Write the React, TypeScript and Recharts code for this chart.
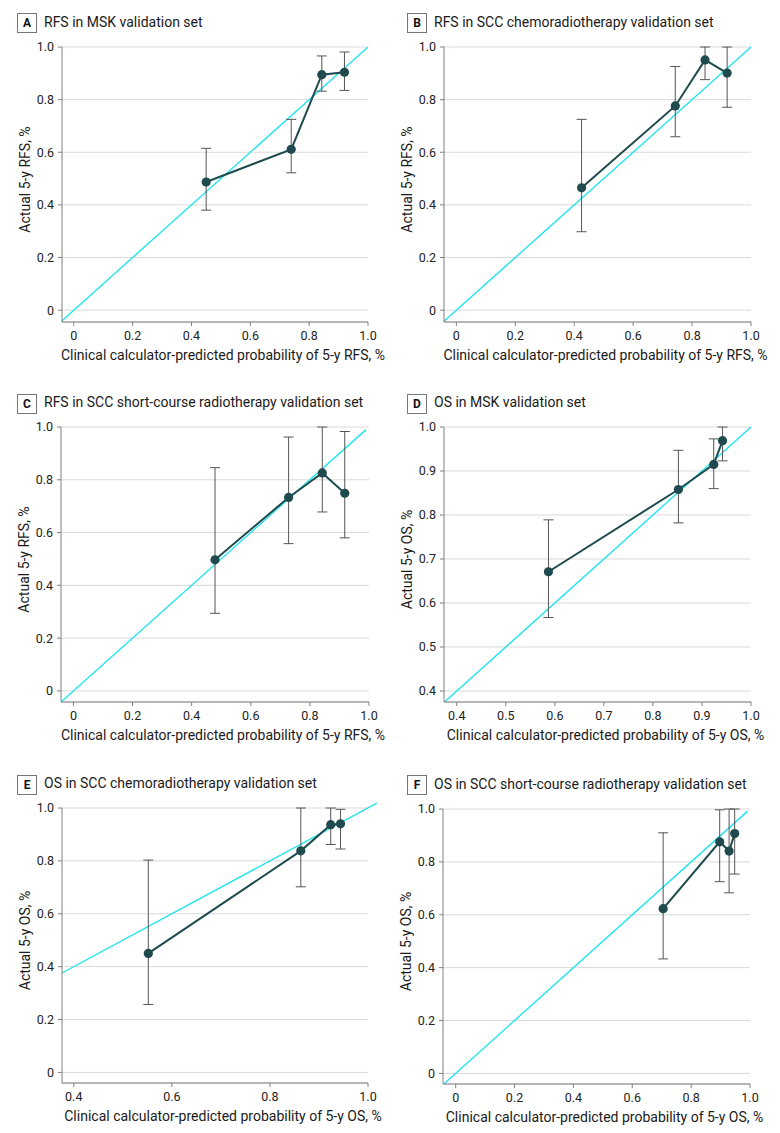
import React from 'react';
import { LineChart, Line, XAxis, YAxis, CartesianGrid, ReferenceLine, ErrorBar, Label } from 'recharts';

// panel A: RFS in MSK validation set
const aPred = [0.45, 0.739, 0.843, 0.92];
const aObs = [0.487, 0.611, 0.895, 0.904];
const aLow = [0.38, 0.522, 0.832, 0.835];
const aHigh = [0.615, 0.725, 0.966, 0.981];

// panel B: RFS in SCC chemoradiotherapy validation set
const bPred = [0.425, 0.743, 0.844, 0.919];
const bObs = [0.465, 0.776, 0.951, 0.901];
const bLow = [0.298, 0.659, 0.876, 0.771];
const bHigh = [0.725, 0.926, 1.0, 1.0];

// panel C: RFS in SCC short-course radiotherapy validation set
const cPred = [0.479, 0.728, 0.842, 0.918];
const cObs = [0.497, 0.733, 0.826, 0.749];
const cLow = [0.294, 0.558, 0.678, 0.58];
const cHigh = [0.846, 0.962, 1.0, 0.983];

// panel D: OS in MSK validation set
const dPred = [0.587, 0.852, 0.924, 0.942];
const dObs = [0.671, 0.858, 0.915, 0.969];
const dLow = [0.567, 0.782, 0.86, 0.923];
const dHigh = [0.789, 0.947, 0.973, 1.0];

// panel E: OS in SCC chemoradiotherapy validation set
const ePred = [0.552, 0.863, 0.924, 0.944];
const eObs = [0.45, 0.838, 0.937, 0.94];
const eLow = [0.257, 0.702, 0.862, 0.845];
const eHigh = [0.803, 1.0, 1.0, 0.995];

// panel F: OS in SCC short-course radiotherapy validation set
const fPred = [0.705, 0.897, 0.929, 0.948];
const fObs = [0.623, 0.876, 0.841, 0.907];
const fLow = [0.433, 0.725, 0.683, 0.754];
const fHigh = [0.91, 0.997, 1.0, 1.0];

const fullTicks = [0, 0.2, 0.4, 0.6, 0.8, 1.0];
const osTicks = [0.4, 0.5, 0.6, 0.7, 0.8, 0.9, 1.0];
const osWideTicks = [0.4, 0.6, 0.8, 1.0];

const FONT = 'Roboto, "Liberation Sans", Arial, sans-serif';
const LINE = '#1f4a4e';
const CYAN = '#22e5ee';

const rows = (pred: number[], obs: number[], low: number[], high: number[]) =>
  pred.map((x, i) => ({ x, obs: obs[i], err: [obs[i] - low[i], high[i] - obs[i]] }));

const fmt = (v: number) => (v === 0 ? '0' : v.toFixed(1));

interface PanelProps {
  letter: string;
  title: string;
  left: number;
  plotTop: number;
  axisW: number;
  plotW: number;
  data: { x: number; obs: number; err: number[] }[];
  xDomain: [number, number];
  yDomain: [number, number];
  xTicks: number[];
  yTicks: number[];
  diagEnd: number;
  xLabel: string;
  yLabel: string;
}

const Panel: React.FC<PanelProps> = (p) => {
  const top = 15;
  const plotH = 275;
  const xh = 45;
  const diagStart = Math.max(p.xDomain[0], p.yDomain[0]);
  return (
    <>
      <div
        style={{
          position: 'absolute', left: p.left + 17, top: p.plotTop - 33.5, width: 18, height: 18,
          border: '1px solid #777', fontFamily: FONT, fontWeight: 700, fontSize: 12, color: '#111',
          display: 'flex', alignItems: 'center', justifyContent: 'center', boxSizing: 'content-box',
        }}
      >
        {p.letter}
      </div>
      <div
        style={{
          position: 'absolute', left: p.left + 44, top: p.plotTop - 35, fontFamily: FONT, fontSize: 14,
          color: '#1a1a1a', whiteSpace: 'nowrap', lineHeight: '20px',
        }}
      >
        {p.title}
      </div>
      <div style={{ position: 'absolute', left: p.left, top: p.plotTop - top }}>
        <LineChart
          width={390}
          height={top + plotH + xh}
          data={p.data}
          margin={{ top, right: 390 - p.axisW - p.plotW, bottom: 0, left: 0 }}
        >
          <CartesianGrid vertical={false} stroke="#d9d9d9" />
          <XAxis
            type="number"
            dataKey="x"
            domain={p.xDomain}
            ticks={p.xTicks}
            allowDataOverflow
            height={xh}
            tickFormatter={fmt}
            tickSize={4}
            tickMargin={5}
            stroke="#808080"
            tick={{ fill: '#222', fontSize: 12.5, fontFamily: FONT }}
          >
            <Label
              value={p.xLabel}
              position="insideBottom"
              offset={7}
              dx={8}
              style={{ fontFamily: FONT, fontSize: 14, fill: '#1a1a1a' }}
            />
          </XAxis>
          <YAxis
            type="number"
            domain={p.yDomain}
            ticks={p.yTicks}
            allowDataOverflow
            width={p.axisW}
            tickFormatter={fmt}
            tickSize={4}
            tickMargin={4}
            stroke="#808080"
            tick={{ fill: '#222', fontSize: 12.5, fontFamily: FONT }}
          >
            <Label
              value={p.yLabel}
              angle={-90}
              position="insideLeft"
              offset={p.axisW - 37}
              dy={-5}
              style={{ fontFamily: FONT, fontSize: 14, fill: '#1a1a1a', textAnchor: 'middle' }}
            />
          </YAxis>
          <ReferenceLine
            segment={[{ x: diagStart, y: diagStart }, { x: p.diagEnd, y: p.diagEnd }]}
            stroke={CYAN}
            strokeWidth={1.4}
            ifOverflow="visible"
          />
          <Line
            type="linear"
            dataKey="obs"
            stroke={LINE}
            strokeWidth={2}
            dot={{ r: 4.6, fill: LINE, stroke: LINE, strokeWidth: 0 }}
            isAnimationActive={false}
          >
            <ErrorBar dataKey="err" direction="y" width={5} stroke="#555" strokeWidth={1} />
          </Line>
        </LineChart>
      </div>
    </>
  );
};

const rfsX = 'Clinical calculator-predicted probability of 5-y RFS, %';
const osX = 'Clinical calculator-predicted probability of 5-y OS, %';

export default function App() {
  return (
    <div style={{ position: 'absolute', left: 0, top: 0, width: 780, height: 1133, background: '#fff' }}>
      <Panel
        letter="A" title="RFS in MSK validation set" left={0} plotTop={46.7} axisW={62} plotW={306}
        data={rows(aPred, aObs, aLow, aHigh)} xDomain={[-0.04, 1]} yDomain={[-0.045, 1]}
        xTicks={fullTicks} yTicks={fullTicks} diagEnd={1.0} xLabel={rfsX} yLabel="Actual 5-y RFS, %"
      />
      <Panel
        letter="B" title="RFS in SCC chemoradiotherapy validation set" left={390} plotTop={46.7} axisW={54} plotW={307}
        data={rows(bPred, bObs, bLow, bHigh)} xDomain={[-0.042, 1]} yDomain={[-0.045, 1]}
        xTicks={fullTicks} yTicks={fullTicks} diagEnd={1.0} xLabel={rfsX} yLabel="Actual 5-y RFS, %"
      />
      <Panel
        letter="C" title="RFS in SCC short-course radiotherapy validation set" left={0} plotTop={427.3} axisW={61} plotW={308}
        data={rows(cPred, cObs, cLow, cHigh)} xDomain={[-0.042, 1]} yDomain={[-0.042, 1]}
        xTicks={fullTicks} yTicks={fullTicks} diagEnd={0.99} xLabel={rfsX} yLabel="Actual 5-y RFS, %"
      />
      <Panel
        letter="D" title="OS in MSK validation set" left={390} plotTop={427.3} axisW={54} plotW={307}
        data={rows(dPred, dObs, dLow, dHigh)} xDomain={[0.374, 1]} yDomain={[0.375, 1]}
        xTicks={osTicks} yTicks={osTicks} diagEnd={1.0} xLabel={osX} yLabel="Actual 5-y OS, %"
      />
      <Panel
        letter="E" title="OS in SCC chemoradiotherapy validation set" left={0} plotTop={808.3} axisW={62} plotW={306}
        data={rows(ePred, eObs, eLow, eHigh)} xDomain={[0.376, 1]} yDomain={[-0.04, 1]}
        xTicks={osWideTicks} yTicks={fullTicks} diagEnd={1.018} xLabel={osX} yLabel="Actual 5-y OS, %"
      />
      <Panel
        letter="F" title="OS in SCC short-course radiotherapy validation set" left={390} plotTop={808.7} axisW={53} plotW={307}
        data={rows(fPred, fObs, fLow, fHigh)} xDomain={[-0.043, 1]} yDomain={[-0.04, 1]}
        xTicks={fullTicks} yTicks={fullTicks} diagEnd={0.992} xLabel={osX} yLabel="Actual 5-y OS, %"
      />
    </div>
  );
}
